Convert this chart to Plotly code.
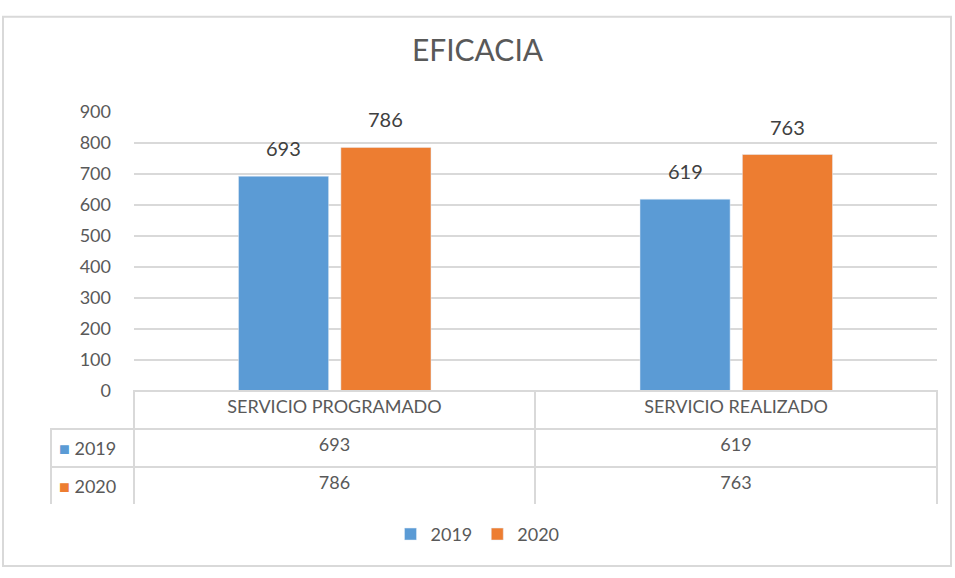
import plotly.graph_objects as go

# datos
categorias = ["SERVICIO PROGRAMADO", "SERVICIO REALIZADO"]
anios = ["2019", "2020"]
valores_2019 = [693, 619]
valores_2020 = [786, 763]
colores = ["#5b9bd5", "#ed7d31"]
ticks_y = [0, 100, 200, 300, 400, 500, 600, 700, 800, 900]

W, H = 955, 578
def px(x):
    return x / W
def py(y):
    return 1 - y / H

gris = "#595959"
linea = "#d9d9d9"
fuente = "Lato"

fig = go.Figure()
series = [valores_2019, valores_2020]
for i, (anio, vals, col) in enumerate(zip(anios, series, colores)):
    fig.add_trace(go.Bar(x=categorias, y=vals, name=anio, marker_color=col))
    # etiquetas de valor encima de cada barra
    for cat, v in zip(categorias, vals):
        fig.add_annotation(x=cat, y=v, text=str(v), showarrow=False,
                           xshift=-51 if i == 0 else 51, yshift=14, yanchor="bottom",
                           font=dict(size=20, color="#404040", family=fuente))

# tabla de datos bajo el eje
filas = [f"<span style='color:{c}'>■</span> {a}<br>" for c, a in zip(colores, anios)]
fig.add_trace(go.Table(
    domain=dict(x=[px(51), px(937)], y=[py(512), py(394)]),
    columnwidth=[83, 401, 402],
    header=dict(
        values=[""] + categorias,
        height=38,
        align="center",
        fill_color=["rgba(0,0,0,0)", "white", "white"],
        line=dict(color=["rgba(0,0,0,0)", linea, linea], width=2),
        font=dict(size=18, color=gris, family=fuente),
    ),
    cells=dict(
        values=[filas,
                [valores_2019[0], valores_2020[0]],
                [valores_2019[1], valores_2020[1]]],
        height=37,
        align=["left", "center", "center"],
        fill_color="rgba(0,0,0,0)",
        line=dict(color=linea, width=2),
        font=dict(size=18, color=gris, family=fuente),
    ),
))

fig.update_layout(
    width=W, height=H,
    margin=dict(l=0, r=0, t=0, b=0),
    paper_bgcolor="white", plot_bgcolor="white",
    font=dict(family=fuente, color=gris),
    title=dict(text="EFICACIA", x=0.5, xanchor="center", y=py(50), yanchor="middle",
               font=dict(size=30, color=gris, family=fuente)),
    barmode="group", bargap=0.49, bargroupgap=0.12,
    xaxis=dict(domain=[px(134), px(937)], showticklabels=False, showline=False,
               showgrid=False, zeroline=False),
    yaxis=dict(domain=[py(394), py(104)], range=[0, 900], tickvals=ticks_y,
               showgrid=True, gridcolor=linea, gridwidth=1.5, zeroline=False,
               tickfont=dict(size=18, color=gris, family=fuente), ticks="", ticklabelstandoff=22),
    legend=dict(orientation="h", x=0.5, xanchor="center", y=py(543), yanchor="middle",
                font=dict(size=18, color=gris, family=fuente), traceorder="normal"),
    shapes=[dict(type="rect", xref="paper", yref="paper", x0=px(3), x1=px(951), y0=py(576), y1=py(5),
                 line=dict(color=linea, width=2))],
)

# sin margen en el body para que la figura llene la ventana
fig.write_html("out.html", config={"displayModeBar": False},
               post_script="document.body.style.margin='0';")
